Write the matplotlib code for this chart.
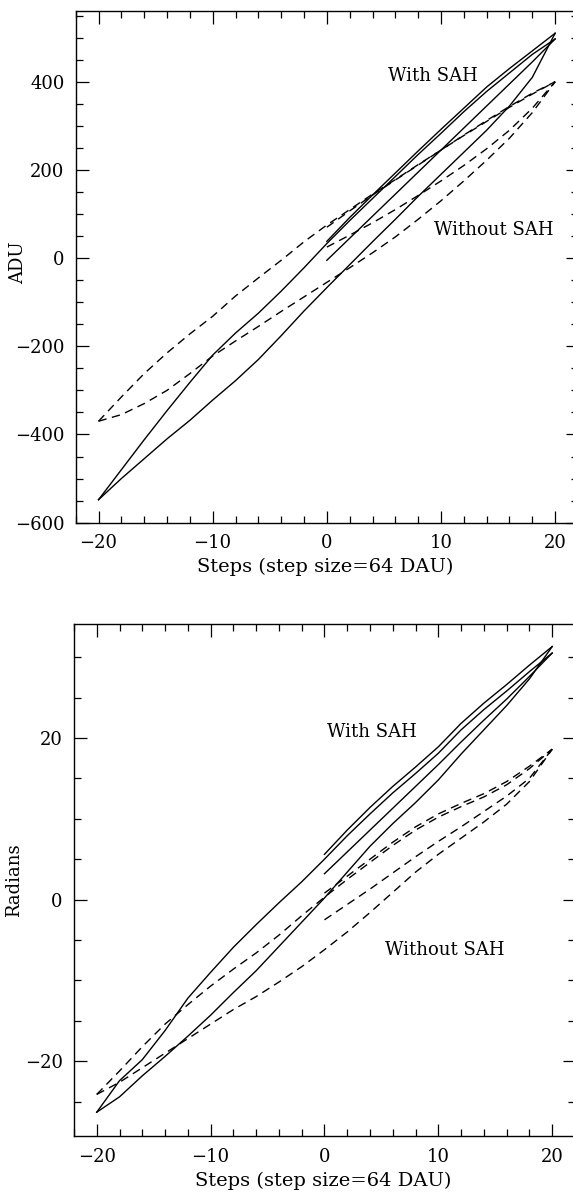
import matplotlib
matplotlib.use("Agg")
import matplotlib.pyplot as plt
from matplotlib.ticker import MultipleLocator

plt.rcParams["font.family"] = ["DejaVu Serif"]

# step positions
x_full = [-20, -18, -16, -14, -12, -10, -8, -6, -4, -2, 0, 2, 4, 6, 8, 10, 12, 14, 16, 18, 20]
x_half = [0, 2, 4, 6, 8, 10, 12, 14, 16, 18, 20]

# ---- top panel: ADU ----
# with SAH (solid)
adu_sah_first_up = [-5, 45, 95, 145, 195, 245, 295, 345, 395, 445, 497]
adu_sah_down = [-548, -480, -412, -346, -282, -220, -170, -125, -75, -22, 33,
                85, 135, 185, 235, 283, 332, 378, 420, 462, 497]
adu_sah_up = [-548, -500, -455, -410, -368, -322, -278, -230, -176, -120, -67,
              -15, 37, 88, 140, 190, 240, 290, 345, 410, 510]
adu_sah_last_down = [38, 92, 143, 193, 243, 292, 340, 388, 430, 470, 510]
# without SAH (dashed)
adu_nosah_first_up = [25, 52, 80, 110, 142, 175, 210, 248, 290, 340, 400]
adu_nosah_down = [-370, -315, -262, -215, -172, -132, -86, -45, -5, 37, 75,
                  110, 145, 178, 212, 245, 278, 310, 342, 372, 400]
adu_nosah_up = [-370, -355, -330, -300, -262, -222, -188, -155, -121, -88, -55,
                -22, 12, 48, 88, 130, 175, 222, 272, 330, 400]
adu_nosah_last_down = [70, 107, 143, 177, 211, 245, 279, 312, 344, 374, 400]

# ---- bottom panel: radians ----
rad_sah_first_up = [3.2, 5.9, 8.6, 11.3, 14.0, 16.7, 19.5, 22.2, 24.8, 27.6, 30.5]
rad_sah_down = [-26.3, -22.4, -19.8, -16.2, -12.2, -9.0, -5.9, -3.1, -0.4, 2.2, 5.0,
                7.9, 10.6, 13.2, 15.6, 18.1, 21.0, 23.5, 25.8, 28.2, 30.5]
rad_sah_up = [-26.3, -24.4, -21.8, -19.4, -16.9, -14.3, -11.5, -8.8, -5.8, -2.8, 0.2,
              3.4, 6.6, 9.4, 12.0, 14.8, 18.0, 21.0, 24.0, 27.3, 31.3]
rad_sah_last_down = [5.6, 8.6, 11.4, 14.0, 16.4, 18.9, 21.8, 24.3, 26.6, 29.0, 31.3]
rad_nosah_first_up = [-2.5, -0.6, 1.3, 3.3, 5.3, 7.2, 9.0, 10.9, 12.8, 15.0, 18.6]
rad_nosah_down = [-24.1, -21.2, -18.2, -15.4, -13.0, -10.7, -8.6, -6.6, -4.4, -2.0, 0.3,
                  2.5, 4.6, 6.7, 8.6, 10.2, 11.5, 12.7, 14.2, 16.2, 18.6]
rad_nosah_up = [-24.1, -22.6, -20.8, -19.0, -17.2, -15.4, -13.6, -12.0, -10.2, -8.3, -6.2,
                -4.0, -1.6, 0.9, 3.4, 5.6, 7.6, 9.6, 11.8, 14.6, 18.6]
rad_nosah_last_down = [0.8, 2.9, 5.0, 7.1, 9.0, 10.6, 11.9, 13.1, 14.6, 16.5, 18.6]

fig = plt.figure(figsize=(5.73, 11.93), dpi=100)
ax1 = fig.add_axes([0.1321, 0.5619, 0.8766, 0.4291])
ax2 = fig.add_axes([0.1291, 0.0474, 0.8743, 0.4296])

dash = (6, 4)


def draw(ax, sah, nosah):
    ax.plot(x_half, sah[0], color="black", lw=1.0)
    ax.plot(x_full, sah[1], color="black", lw=1.0)
    ax.plot(x_full, sah[2], color="black", lw=1.0)
    ax.plot(x_half, sah[3], color="black", lw=1.0)
    ax.plot(x_half, nosah[0], color="black", lw=1.0, dashes=dash)
    ax.plot(x_full, nosah[1], color="black", lw=1.0, dashes=dash)
    ax.plot(x_full, nosah[2], color="black", lw=1.0, dashes=dash)
    ax.plot(x_half, nosah[3], color="black", lw=1.0, dashes=dash)


draw(ax1, [adu_sah_first_up, adu_sah_down, adu_sah_up, adu_sah_last_down],
     [adu_nosah_first_up, adu_nosah_down, adu_nosah_up, adu_nosah_last_down])
draw(ax2, [rad_sah_first_up, rad_sah_down, rad_sah_up, rad_sah_last_down],
     [rad_nosah_first_up, rad_nosah_down, rad_nosah_up, rad_nosah_last_down])

ax1.set_xlim(-22, 22)
ax1.set_ylim(-600, 561)
ax1.yaxis.set_major_locator(MultipleLocator(200))
ax1.yaxis.set_minor_locator(MultipleLocator(50))
ax1.set_ylabel("ADU", fontsize=13)
ax1.yaxis.set_label_coords(-0.097, 0.507)
ax1.text(9.3, 413, "With SAH", ha="center", va="center", fontsize=13)
ax1.text(14.6, 63, "Without SAH", ha="center", va="center", fontsize=13)

ax2.set_xlim(-22, 22)
ax2.set_ylim(-29.3, 34.1)
ax2.yaxis.set_major_locator(MultipleLocator(20))
ax2.yaxis.set_minor_locator(MultipleLocator(5))
ax2.set_ylabel("Radians", fontsize=13)
ax2.yaxis.set_label_coords(-0.102, 0.5)
ax2.text(4.2, 20.75, "With SAH", ha="center", va="center", fontsize=13)
ax2.text(10.6, -6.2, "Without SAH", ha="center", va="center", fontsize=13)

for ax in (ax1, ax2):
    ax.xaxis.set_major_locator(MultipleLocator(10))
    ax.xaxis.set_minor_locator(MultipleLocator(2))
    ax.tick_params(which="both", direction="in", top=True, right=True,
                   width=0.9, labelsize=13)
    ax.tick_params(which="major", length=9, pad=8)
    ax.tick_params(which="minor", length=4.8)
    for sp in ax.spines.values():
        sp.set_linewidth(1.0)
    ax.set_xlabel("Steps (step size=64 DAU)", fontsize=14)
    ax.xaxis.set_label_coords(0.497, -0.086)
    ax.xaxis.label.set_va("center")

fig.savefig("out.png", dpi=100)
